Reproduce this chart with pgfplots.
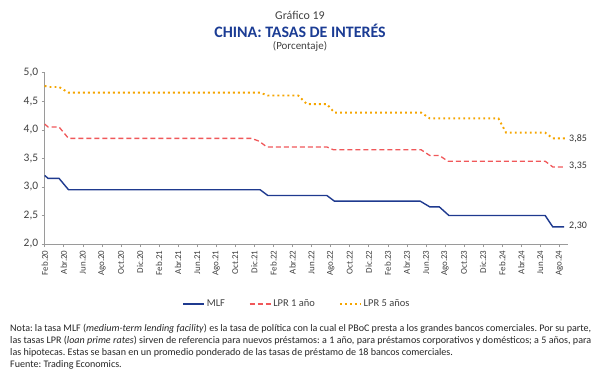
\documentclass[border=0pt]{standalone}
\usepackage{pgfplots}
\pgfplotsset{compat=1.18}
\usepackage{fontspec}
\setmainfont{Carlito}
\definecolor{mlf}{HTML}{1F3A8F}
\definecolor{lpra}{HTML}{F0585A}
\definecolor{lprb}{HTML}{F5A500}
\definecolor{ttl}{HTML}{1B3C94}
\definecolor{axg}{HTML}{9A9A9A}
\begin{document}
\begin{tikzpicture}[x=1bp,y=1bp]
\path[use as bounding box] (-44.7,-141) rectangle (555.3,244);
\begin{axis}[
  scale only axis, width=523.3bp, height=171.3bp,
  xmin=0, xmax=54.9, ymin=2, ymax=5,
  axis x line*=bottom, axis y line*=left,
  axis line style={axg, line width=0.6bp},
  x axis line style={-}, y axis line style={-},
  tick style={axg, line width=0.6bp},
  tick align=outside, major tick length=3bp,
  ytick={2,2.5,...,5},
  yticklabel style={font=\fontsize{11.5}{13}\selectfont, text=black!75, /pgf/number format/.cd, use comma, fixed, fixed zerofill, precision=1},
  /pgf/number format/assume math mode=true,
  xtick={0,2,...,54},
  xticklabels={Feb.20,Abr.20,Jun.20,Ago.20,Oct.20,Dic.20,Feb.21,Abr.21,Jun.21,Ago.21,Oct.21,Dic.21,Feb.22,Abr.22,Jun.22,Ago.22,Oct.22,Dic.22,Feb.23,Abr.23,Jun.23,Ago.23,Oct.23,Dic.23,Feb.24,Abr.24,Jun.24,Ago.24},
  xticklabel style={rotate=90, anchor=east, font=\fontsize{9}{10}\selectfont, text=black!75},
  clip=false,
  legend columns=3,
  legend style={at={(axis description cs:0.482,-0.35)}, anchor=center, draw=none, fill=none,
    font=\fontsize{10.5}{12}\selectfont, text=black!75,
    /tikz/every even column/.append style={column sep=22bp}},
  legend image code/.code={\draw[#1] (0bp,0bp) -- (21bp,0bp);},
]
\addplot[mlf, line width=1.4bp] coordinates {
(0,3.20) (0.35,3.15) (1.5,3.15) (2.5,2.95) (22.6,2.95) (23.4,2.85) (29.6,2.85) (30.4,2.75)
(39.4,2.75) (40.4,2.65) (41.4,2.65) (42.4,2.50) (52.5,2.50) (53.3,2.30) (54.5,2.30)};
\addlegendentry{MLF\hspace{15bp}}
\addplot[lpra, line width=1.3bp, dash pattern=on 5bp off 3bp] coordinates {
(0,4.10) (0.35,4.05) (1.5,4.05) (2.5,3.85) (21.7,3.85) (22.5,3.80) (23.3,3.70) (29.6,3.70)
(30.3,3.65) (39.5,3.65) (40.4,3.55) (41.4,3.55) (42.3,3.45) (52.5,3.45) (53.3,3.35) (54.5,3.35)};
\addlegendentry{LPR 1 año}
\addplot[lprb, line width=1.9bp, dash pattern=on 1.9bp off 3.1bp] coordinates {
(0,4.77) (0.35,4.75) (1.5,4.75) (2.5,4.65) (22.6,4.65) (23.4,4.60) (26.6,4.60) (27.5,4.45)
(29.6,4.45) (30.4,4.30) (39.5,4.30) (40.4,4.20) (47.6,4.20) (48.4,3.95) (52.5,3.95) (53.3,3.85) (54.6,3.85)};
\addlegendentry{LPR 5 años}
\node[anchor=west, inner sep=1bp, font=\fontsize{10}{11}\selectfont, text=black!80] at (axis cs:54.9,3.85) {3,85};
\node[anchor=west, inner sep=1bp, font=\fontsize{10}{11}\selectfont, text=black!80] at (axis cs:54.9,3.37) {3,35};
\node[anchor=west, inner sep=1bp, font=\fontsize{10}{11}\selectfont, text=black!80] at (axis cs:54.9,2.31) {2,30};
\end{axis}
\node[font=\fontsize{12}{13}\selectfont, text=black!75] at (255.3,229) {Gráfico 19};
\node[font=\bfseries\fontsize{16}{18}\selectfont, text=ttl] at (255.3,213) {CHINA: TASAS DE INTERÉS};
\node[font=\fontsize{11}{12}\selectfont, text=black!75] at (255.3,198) {(Porcentaje)};
\node[anchor=north west, inner sep=0pt, text width=581bp, align=justify, font=\fontsize{10.1}{12}\selectfont\frenchspacing, text=black!85] at (-34.7,-80)
{Nota: la tasa MLF (\textit{medium-term lending facility}) es la tasa de política con la cual el PBoC presta a los grandes bancos comerciales. Por su parte,\linebreak las tasas LPR (\textit{loan prime rates}) sirven de referencia para nuevos préstamos: a 1 año, para préstamos corporativos y domésticos; a 5 años, para\linebreak las hipotecas. Estas se basan en un promedio ponderado de las tasas de préstamo de 18 bancos comerciales.\\ Fuente: Trading Economics.};
\end{tikzpicture}
\end{document}
